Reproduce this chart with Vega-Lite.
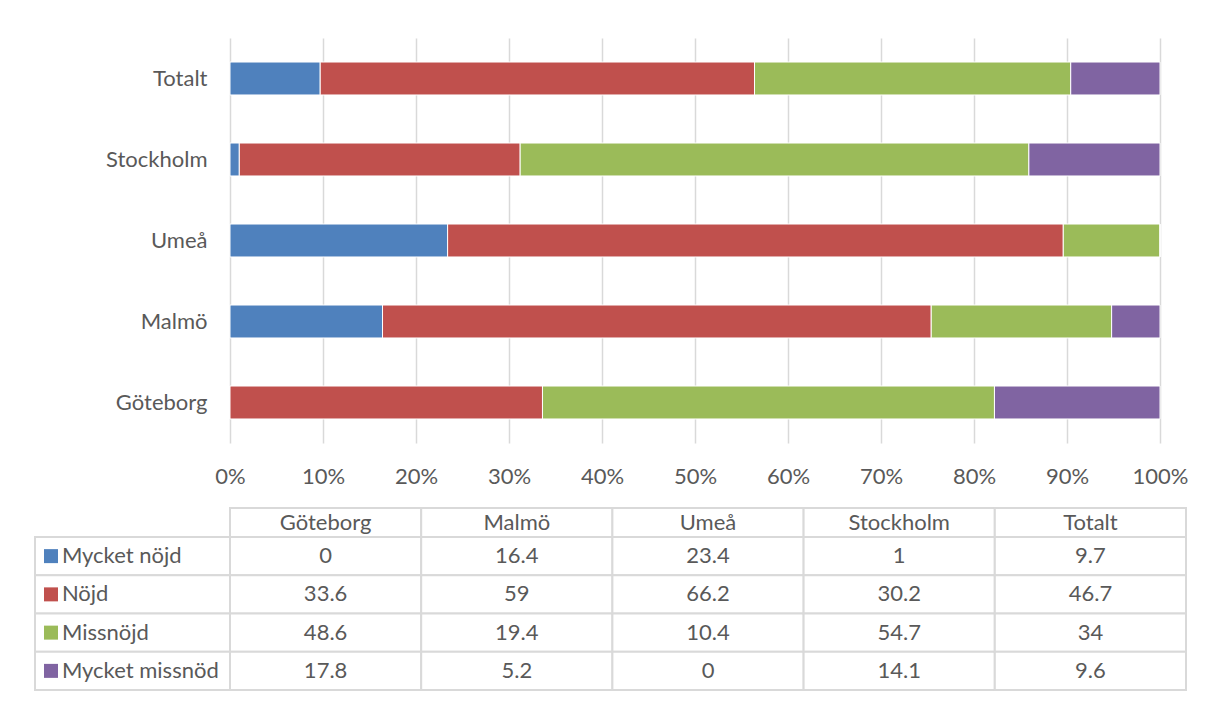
{
  "$schema": "https://vega.github.io/schema/vega-lite/v6.json",
  "padding": {"left": 34, "top": 38, "right": 5, "bottom": 5},
  "background": "white",
  "config": {"font": "Lato", "view": {"stroke": null}},
  "datasets": {
    "main": [
      {"city": "Göteborg", "series": "Mycket nöjd", "value": 0, "k": 1},
      {"city": "Göteborg", "series": "Nöjd", "value": 33.6, "k": 2},
      {"city": "Göteborg", "series": "Missnöjd", "value": 48.6, "k": 3},
      {"city": "Göteborg", "series": "Mycket missnöd", "value": 17.8, "k": 4},
      {"city": "Malmö", "series": "Mycket nöjd", "value": 16.4, "k": 1},
      {"city": "Malmö", "series": "Nöjd", "value": 59, "k": 2},
      {"city": "Malmö", "series": "Missnöjd", "value": 19.4, "k": 3},
      {"city": "Malmö", "series": "Mycket missnöd", "value": 5.2, "k": 4},
      {"city": "Umeå", "series": "Mycket nöjd", "value": 23.4, "k": 1},
      {"city": "Umeå", "series": "Nöjd", "value": 66.2, "k": 2},
      {"city": "Umeå", "series": "Missnöjd", "value": 10.4, "k": 3},
      {"city": "Umeå", "series": "Mycket missnöd", "value": 0, "k": 4},
      {"city": "Stockholm", "series": "Mycket nöjd", "value": 1, "k": 1},
      {"city": "Stockholm", "series": "Nöjd", "value": 30.2, "k": 2},
      {"city": "Stockholm", "series": "Missnöjd", "value": 54.7, "k": 3},
      {"city": "Stockholm", "series": "Mycket missnöd", "value": 14.1, "k": 4},
      {"city": "Totalt", "series": "Mycket nöjd", "value": 9.7, "k": 1},
      {"city": "Totalt", "series": "Nöjd", "value": 46.7, "k": 2},
      {"city": "Totalt", "series": "Missnöjd", "value": 34, "k": 3},
      {"city": "Totalt", "series": "Mycket missnöd", "value": 9.6, "k": 4}
    ],
    "series": [
      {"series": "Mycket nöjd"},
      {"series": "Nöjd"},
      {"series": "Missnöjd"},
      {"series": "Mycket missnöd"}
    ],
    "cities": [
      {"city": "Göteborg"},
      {"city": "Malmö"},
      {"city": "Umeå"},
      {"city": "Stockholm"},
      {"city": "Totalt"}
    ]
  },
  "columns": 2,
  "bounds": "flush",
  "spacing": 0,
  "concat": [
    {
      "width": 195, "height": 405,
      "data": {"values": []},
      "mark": {"type": "text"},
      "encoding": {}
    },
    {
      "width": 930,
      "height": 405,
      "data": {"name": "main"},
      "mark": {"type": "bar", "stroke": "white", "strokeWidth": 1},
      "encoding": {
        "y": {
          "field": "city", "type": "nominal",
          "sort": ["Totalt", "Stockholm", "Umeå", "Malmö", "Göteborg"],
          "scale": {"paddingInner": 0.593, "paddingOuter": 0.2965},
          "axis": {"title": null, "ticks": false, "domain": false, "grid": false, "labelFontSize": 22, "labelColor": "#595959", "labelPadding": 23}
        },
        "x": {
          "field": "value", "type": "quantitative", "stack": "normalize",
          "scale": {"domain": [0, 1]},
          "axis": {"title": null, "values": [0, 0.1, 0.2, 0.3, 0.4, 0.5, 0.6, 0.7, 0.8, 0.9, 1], "format": ".0%", "grid": true, "gridColor": "#D9D9D9", "gridWidth": 1.5, "domain": false, "ticks": false, "labelPadding": 23, "labelFontSize": 22, "labelColor": "#595959", "labelFlush": false, "labelOverlap": false}
        },
        "color": {
          "field": "series", "type": "nominal",
          "scale": {"domain": ["Mycket nöjd", "Nöjd", "Missnöjd", "Mycket missnöd"], "range": ["#4F81BD", "#C0504D", "#9BBB59", "#8064A2"]},
          "legend": null
        },
        "order": {"field": "k", "type": "quantitative"}
      }
    },
    {
      "width": 195, "height": 65,
      "data": {"values": []},
      "mark": {"type": "text"},
      "encoding": {}
    },
    {
      "width": 956, "height": 65,
      "data": {"values": []},
      "mark": {"type": "text"},
      "encoding": {}
    },
    {
      "width": 195, "height": 29,
      "data": {"values": []},
      "mark": {"type": "text"},
      "encoding": {}
    },
    {
      "width": 956,
      "height": 29,
      "data": {"name": "cities"},
      "encoding": {
        "x": {"field": "city", "type": "nominal", "sort": ["Göteborg", "Malmö", "Umeå", "Stockholm", "Totalt"], "scale": {"paddingInner": 0, "paddingOuter": 0}, "axis": null}
      },
      "layer": [
        {
          "mark": {"type": "rect", "fill": "white", "stroke": "#D9D9D9", "strokeWidth": 2}
        },
        {
          "mark": {"type": "text", "fontSize": 22, "color": "#595959"},
          "encoding": {"text": {"field": "city"}}
        }
      ]
    },
    {
      "width": 195,
      "height": 153,
      "data": {"name": "series"},
      "encoding": {
        "y": {"field": "series", "type": "nominal", "sort": ["Mycket nöjd", "Nöjd", "Missnöjd", "Mycket missnöd"], "scale": {"paddingInner": 0, "paddingOuter": 0}, "axis": null}
      },
      "layer": [
        {
          "mark": {"type": "rect", "fill": "white", "stroke": "#D9D9D9", "strokeWidth": 2},
          "encoding": {
            "x": {"datum": "legend", "type": "nominal", "scale": {"paddingInner": 0, "paddingOuter": 0}, "axis": null}
          }
        },
        {
          "mark": {"type": "square", "size": 196, "filled": true, "opacity": 1},
          "encoding": {
            "x": {"datum": "legend", "type": "nominal", "bandPosition": 0.082, "axis": null},
            "color": {
              "field": "series", "type": "nominal",
              "scale": {"domain": ["Mycket nöjd", "Nöjd", "Missnöjd", "Mycket missnöd"], "range": ["#4F81BD", "#C0504D", "#9BBB59", "#8064A2"]},
              "legend": null
            }
          }
        },
        {
          "mark": {"type": "text", "fontSize": 22, "color": "#595959", "align": "left"},
          "encoding": {
            "x": {"datum": "legend", "type": "nominal", "bandPosition": 0.138, "axis": null},
            "text": {"field": "series"}
          }
        }
      ]
    },
    {
      "width": 956,
      "height": 153,
      "data": {"name": "main"},
      "encoding": {
        "x": {"field": "city", "type": "nominal", "sort": ["Göteborg", "Malmö", "Umeå", "Stockholm", "Totalt"], "scale": {"paddingInner": 0, "paddingOuter": 0}, "axis": null},
        "y": {"field": "series", "type": "nominal", "sort": ["Mycket nöjd", "Nöjd", "Missnöjd", "Mycket missnöd"], "scale": {"paddingInner": 0, "paddingOuter": 0}, "axis": null}
      },
      "layer": [
        {
          "mark": {"type": "rect", "fill": "white", "stroke": "#D9D9D9", "strokeWidth": 2}
        },
        {
          "mark": {"type": "text", "fontSize": 22, "color": "#595959"},
          "encoding": {"text": {"field": "value", "type": "quantitative"}}
        }
      ]
    }
  ]
}
